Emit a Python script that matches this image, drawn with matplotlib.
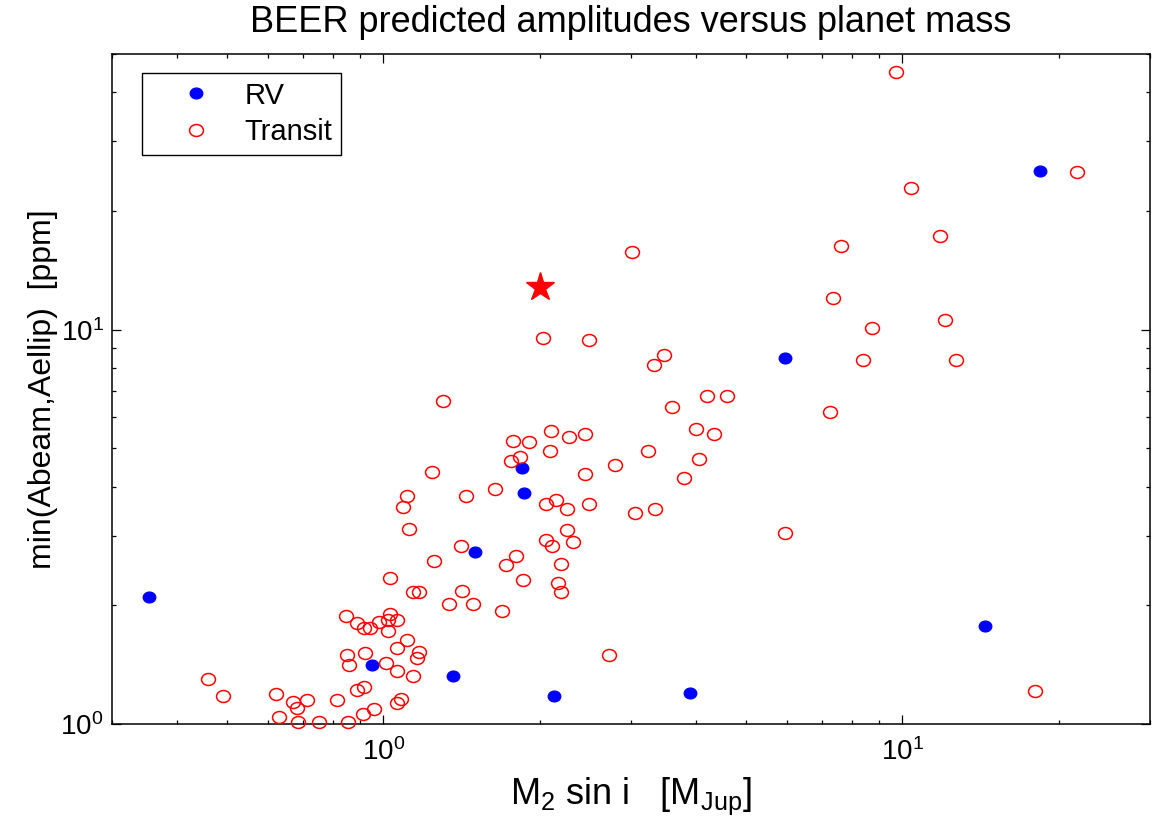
import matplotlib
matplotlib.use("Agg")
import matplotlib.pyplot as plt
from matplotlib.ticker import NullFormatter
from matplotlib.path import Path
from matplotlib.transforms import Affine2D

plt.rcParams['font.family'] = ['Liberation Sans', 'DejaVu Sans']
plt.rcParams['mathtext.fontset'] = 'custom'
plt.rcParams['mathtext.rm'] = 'Liberation Sans'
plt.rcParams['mathtext.it'] = 'Liberation Sans:italic'
plt.rcParams['mathtext.bf'] = 'Liberation Sans:bold'

# RV planets (filled blue)
rv_mass = [0.353, 0.95, 1.36, 1.50, 1.85, 1.87, 2.13, 3.89, 5.95, 14.4, 18.4]
rv_amp = [2.10, 1.41, 1.32, 2.73, 4.46, 3.85, 1.175, 1.20, 8.45, 1.77, 25.3]

# Transiting planets (open red circles)
transit_mass = [
    9.71, 10.4, 11.8, 21.7, 7.61, 3.01, 7.35, 12.1, 8.74, 8.40,
    12.7, 2.03, 2.49, 3.47, 3.32, 7.25, 4.20, 4.59, 3.60, 4.01,
    4.34, 3.23, 4.06, 2.80, 3.80, 3.06, 3.33, 5.95, 18.0, 2.72,
    1.30, 1.78, 1.91, 2.10, 2.28, 2.45, 2.09, 1.83, 1.76, 1.24,
    2.45, 1.64, 1.11, 1.44, 1.09, 2.06, 2.15, 2.26, 2.49, 1.12,
    2.26, 2.06, 2.11, 2.32, 1.41, 1.25, 1.80, 1.72, 2.20, 1.03,
    1.86, 2.17, 2.20, 1.14, 1.17, 1.42, 1.34, 1.49, 1.69, 0.849,
    0.890, 0.918, 0.942, 0.982, 1.03, 1.02, 1.06, 1.02, 1.11, 1.06,
    1.17, 1.16, 0.851, 0.921, 0.860, 1.01, 1.06, 1.14, 0.890, 0.918,
    0.813, 0.712, 1.08, 1.06, 0.961, 0.912, 0.751, 0.856, 0.685, 0.460,
    0.491, 0.621, 0.670, 0.682, 0.628,
]
transit_amp = [
    44.9, 22.8, 17.3, 25.1, 16.3, 15.7, 12.0, 10.55, 10.1, 8.36,
    8.38, 9.52, 9.42, 8.60, 8.13, 6.17, 6.80, 6.80, 6.35, 5.59,
    5.44, 4.93, 4.69, 4.55, 4.21, 3.42, 3.50, 3.05, 1.21, 1.50,
    6.58, 5.23, 5.20, 5.52, 5.33, 5.43, 4.92, 4.75, 4.65, 4.35,
    4.31, 3.94, 3.78, 3.79, 3.55, 3.61, 3.70, 3.51, 3.62, 3.13,
    3.10, 2.93, 2.83, 2.90, 2.82, 2.59, 2.67, 2.53, 2.54, 2.35,
    2.32, 2.28, 2.16, 2.16, 2.16, 2.17, 2.01, 2.02, 1.93, 1.88,
    1.80, 1.75, 1.75, 1.81, 1.90, 1.84, 1.84, 1.72, 1.63, 1.56,
    1.52, 1.47, 1.50, 1.51, 1.41, 1.43, 1.36, 1.32, 1.22, 1.24,
    1.15, 1.15, 1.16, 1.13, 1.09, 1.06, 1.01, 1.01, 1.01, 1.30,
    1.18, 1.19, 1.14, 1.10, 1.04,
]

# the highlighted planet
star_mass = [2.0]
star_amp = [12.8]

# slightly flattened circle, as in the original export
oval = Path.unit_circle().transformed(Affine2D().scale(1.0, 0.86))

fig = plt.figure(figsize=(11.56, 8.25), dpi=100)
ax = fig.add_axes([112 / 1156, 1 - 724 / 825, 1038 / 1156, 670 / 825])

ax.plot(rv_mass, rv_amp, ls='none', marker=oval, color='blue', mec='blue',
        ms=9, label='RV', clip_on=False, zorder=3)
ax.plot(transit_mass, transit_amp, ls='none', marker=oval, mfc='none',
        mec='red', ms=10, mew=1.1, label='Transit', clip_on=False, zorder=3)
ax.plot(star_mass, star_amp, '*', color='red', ms=21, clip_on=False, zorder=4)

ax.set_xscale('log')
ax.set_yscale('log')
ax.set_xlim(0.3, 30)
ax.set_ylim(1, 50)
ax.xaxis.set_minor_formatter(NullFormatter())
ax.yaxis.set_minor_formatter(NullFormatter())

ax.tick_params(which='both', direction='in', top=True, right=True,
               labelsize=20, width=0.9, colors='black')
ax.tick_params(which='major', length=6.5)
ax.tick_params(which='minor', length=3.2)
ax.tick_params(axis='x', which='major', pad=10)
ax.tick_params(axis='y', which='major', pad=6)
for s in ax.spines.values():
    s.set_linewidth(1.1)

ax.set_title('BEER predicted amplitudes versus planet mass',
             fontsize=26, pad=16)
ax.set_xlabel(r'M$_\mathregular{2}$ sin i   [M$_\mathregular{Jup}$]',
              fontsize=26)
ax.set_ylabel('min(Abeam,Aellip)  [ppm]', fontsize=23)
ax.xaxis.set_label_coords(0.5, -0.077)
ax.yaxis.set_label_coords(-0.052, 0.5)

leg = ax.legend(loc='upper left', bbox_to_anchor=(0.029, 0.972),
                borderaxespad=0, fontsize=21, frameon=True, fancybox=False,
                framealpha=1, edgecolor='black', handlelength=3.1,
                handletextpad=0.1, labelspacing=0.3, borderpad=0.3)
leg.get_frame().set_linewidth(1.0)

fig.savefig('out.png', dpi=100)
